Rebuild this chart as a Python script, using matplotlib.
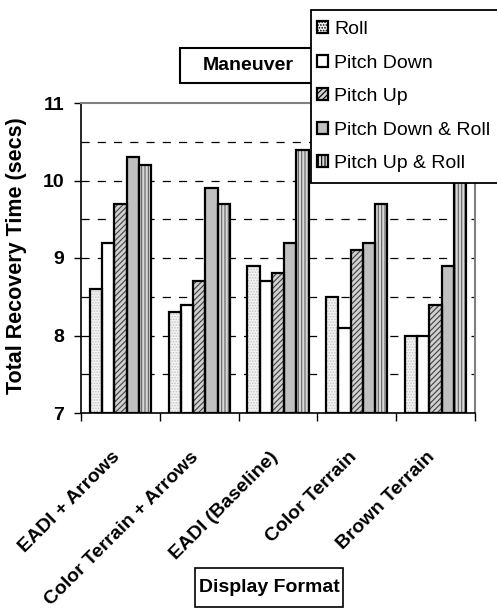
import numpy as np
import matplotlib
matplotlib.use("Agg")
import matplotlib.pyplot as plt
from matplotlib.patches import Rectangle
from matplotlib.transforms import ScaledTranslation

# === Data ===
formats = ["EADI + Arrows", "Color Terrain + Arrows", "EADI (Baseline)",
           "Color Terrain", "Brown Terrain"]
maneuvers = ["Roll", "Pitch Down", "Pitch Up", "Pitch Down & Roll", "Pitch Up & Roll"]
roll = [8.6, 8.3, 8.9, 8.5, 8.0]
pitch_down = [9.2, 8.4, 8.7, 8.1, 8.0]
pitch_up = [9.7, 8.7, 8.8, 9.1, 8.4]
pitch_down_roll = [10.3, 9.9, 9.2, 9.2, 8.9]
pitch_up_roll = [10.2, 9.7, 10.4, 9.7, 10.5]
series = [roll, pitch_down, pitch_up, pitch_down_roll, pitch_up_roll]

# fill colour, hatch pattern, hatch colour
styles = [
    ("#f4f4f4", "......", "#c4c4c4"),
    ("white", "", "white"),
    ("#d0d0d0", "//////", "#404040"),
    ("#c0c0c0", "", "#c0c0c0"),
    ("#d8d8d8", "|||||", "#606060"),
]

plt.rcParams["font.family"] = ["Liberation Sans", "DejaVu Sans"]
plt.rcParams["hatch.linewidth"] = 0.8

W, H = 497, 609
fig = plt.figure(figsize=(W / 100, H / 100), dpi=100)
ax = fig.add_axes([81 / W, 1 - 413 / H, (475 - 81) / W, (413 - 103) / H])

x = np.arange(len(formats))
bw = 0.155
handles = []
for i, (vals, (fc, hatch, hc)) in enumerate(zip(series, styles)):
    pos = x + (i - 2) * bw
    heights = np.array(vals) - 7
    ax.bar(pos, heights, bw, bottom=7, color=fc, hatch=hatch, edgecolor=hc,
           linewidth=0, zorder=2)
    ax.bar(pos, heights, bw, bottom=7, fill=False, edgecolor="black",
           linewidth=1.6, zorder=3)
    h = Rectangle((0, 0), 1, 1, facecolor=fc, hatch=hatch, edgecolor="black",
                  linewidth=1.6)
    handles.append(h)

ax.set_ylim(7, 11)
ax.set_xlim(-0.5, len(formats) - 0.5)

# dashed gridlines every 0.5
for yv in np.arange(7.5, 11, 0.5):
    ax.axhline(yv, color="black", linewidth=0.9, linestyle=(0, (6.5, 6.5)), zorder=1)

ax.set_yticks([7, 8, 9, 10, 11])
ax.set_yticklabels(["7", "8", "9", "10", "11"], fontsize=14, fontweight="bold")
ax.tick_params(axis="y", direction="out", length=5, width=1, pad=7)

ax.set_xticks(x)
ax.set_xticklabels(formats, rotation=45, ha="right", rotation_mode="anchor",
                   fontsize=14, fontweight="bold")
ax.set_xticks(np.arange(-0.5, len(formats), 1.0), minor=True)
ax.tick_params(axis="x", which="major", length=0, pad=22)
ax.tick_params(axis="x", which="minor", direction="out", length=6, width=1)
shift = ScaledTranslation(-9 / 100, -5 / 100, fig.dpi_scale_trans)
for lab in ax.get_xticklabels():
    lab.set_transform(lab.get_transform() + shift)

for side in ["top", "right"]:
    ax.spines[side].set_color("#808080")
    ax.spines[side].set_linewidth(1.5)
for side in ["left", "bottom"]:
    ax.spines[side].set_color("black")
    ax.spines[side].set_linewidth(1.2)

fig.text(17 / W, 1 - 256 / H, "Total Recovery Time (secs)", rotation=90,
         ha="center", va="center", fontsize=15.5, fontweight="bold")

# "Maneuver" box
fig.add_artist(Rectangle((180 / W, 1 - 83 / H), 134 / W, 35 / H, transform=fig.transFigure,
                         facecolor="white", edgecolor="black", linewidth=1.5))
fig.text(248 / W, 1 - 66 / H, "Maneuver", ha="center", va="center",
         fontsize=14, fontweight="bold")

# "Display Format" box
fig.add_artist(Rectangle((195 / W, 1 - 607 / H), 148 / W, 39 / H, transform=fig.transFigure,
                         facecolor="white", edgecolor="black", linewidth=1.2))
fig.text(269 / W, 1 - 588 / H, "Display Format", ha="center", va="center",
         fontsize=14, fontweight="bold")

# legend frame drawn separately (runs off the right edge like the original)
fig.add_artist(Rectangle((311 / W, 1 - 183 / H), 200 / W, 173 / H, transform=fig.transFigure,
                         facecolor="white", edgecolor="black", linewidth=1.3, zorder=9))
leg = fig.legend(handles, maneuvers, loc="upper left",
                 bbox_to_anchor=(317 / W, 1 - 21 / H), fontsize=14,
                 handlelength=0.58, handleheight=0.58, handletextpad=0.3,
                 labelspacing=0.85, borderpad=0, borderaxespad=0,
                 frameon=False)
leg.set_zorder(10)

fig.savefig("out.png", dpi=100)
